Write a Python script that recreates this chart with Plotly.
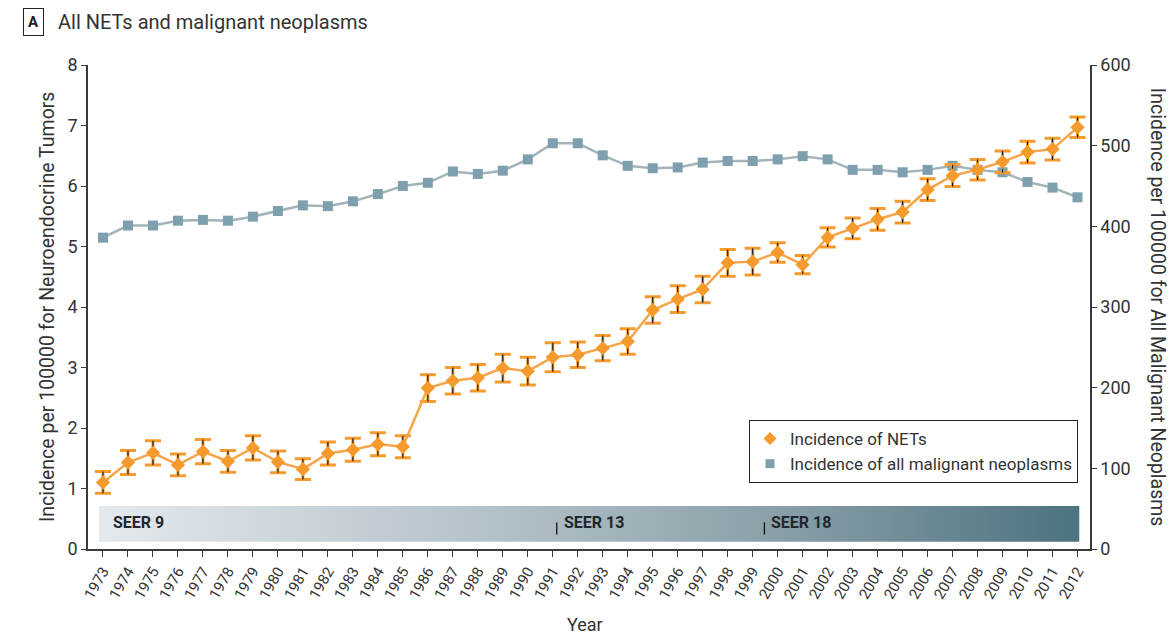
import plotly.graph_objects as go

years = list(range(1973, 2013))

nets = [1.10, 1.43, 1.59, 1.39, 1.61, 1.45, 1.67, 1.44, 1.32, 1.58,
        1.64, 1.73, 1.69, 2.66, 2.78, 2.83, 2.99, 2.94, 3.17, 3.21,
        3.32, 3.43, 3.95, 4.13, 4.29, 4.73, 4.75, 4.90, 4.70, 5.15,
        5.30, 5.45, 5.57, 5.94, 6.17, 6.27, 6.40, 6.56, 6.61, 6.97]

nets_err = [0.18, 0.20, 0.20, 0.18, 0.20, 0.18, 0.20, 0.18, 0.17, 0.19,
            0.19, 0.19, 0.18, 0.22, 0.22, 0.22, 0.23, 0.23, 0.24, 0.21,
            0.21, 0.21, 0.22, 0.22, 0.22, 0.22, 0.22, 0.16, 0.15, 0.16,
            0.17, 0.18, 0.18, 0.18, 0.18, 0.17, 0.18, 0.18, 0.18, 0.17]

malig = [386, 401, 401, 407, 408, 407, 412, 419, 426, 425,
         431, 440, 450, 454, 468, 465, 469, 483, 503, 503,
         488, 475, 472, 473, 479, 481, 481, 483, 487, 483,
         470, 470, 467, 470, 475, 470, 467, 455, 448, 436]

seer_labels = ["SEER 9", "SEER 13", "SEER 18"]
seer_text_x = [1973.34, 1991.35, 1999.65]
seer_mark_x = [None, 1991.16, 1999.47]

ORANGE = "#f59a2c"
ORANGE_LINE = "#f6a54a"
BLUE = "#7e9fad"
BLUE_LINE = "#a2b3ba"
TXT = "#333333"
FONT = "Roboto, 'Open Sans', sans-serif"

fig = go.Figure()

# SEER band (gradient)
bx0, bx1 = years[0] - 0.16, years[-1] + 0.07
by0, by1 = 0.12, 0.71
fig.add_trace(go.Scatter(
    x=[bx0, bx1, bx1, bx0, bx0], y=[by0, by0, by1, by1, by0],
    fill="toself", mode="lines", line=dict(width=0),
    fillgradient=dict(type="horizontal",
                      colorscale=[[0, "#e4e9ed"], [0.45, "#adbcc3"],
                                  [0.7, "#889ea7"], [1, "#4c7380"]]),
    hoverinfo="skip", showlegend=False, yaxis="y"))

# All malignant neoplasms (right axis)
fig.add_trace(go.Scatter(
    x=years, y=malig, mode="lines+markers",
    line=dict(color=BLUE_LINE, width=2.5),
    marker=dict(symbol="square", size=10, color=BLUE),
    showlegend=False, yaxis="y2"))

# NETs with error bars (orange caps + black stem)
fig.add_trace(go.Scatter(
    x=years, y=nets, mode="lines",
    line=dict(color=ORANGE_LINE, width=2.5),
    error_y=dict(type="data", array=nets_err, color=ORANGE, thickness=3, width=8),
    showlegend=False, yaxis="y3"))
fig.add_trace(go.Scatter(
    x=years, y=nets, mode="markers",
    marker=dict(symbol="diamond", size=11, color=ORANGE),
    error_y=dict(type="data", array=nets_err, color="#222222", thickness=1.2, width=0),
    showlegend=False, yaxis="y3"))

# legend entries
fig.add_trace(go.Scatter(x=[None], y=[None], mode="markers", name="Incidence of NETs",
                         marker=dict(symbol="diamond", size=10, color=ORANGE)))
fig.add_trace(go.Scatter(x=[None], y=[None], mode="markers",
                         name="Incidence of all malignant neoplasms",
                         marker=dict(symbol="square", size=9, color=BLUE)))

annotations = []
shapes = []
for lab, tx, mx in zip(seer_labels, seer_text_x, seer_mark_x):
    annotations.append(dict(x=tx, y=0.43, xref="x", yref="y", text=lab, showarrow=False,
                            xanchor="left", yanchor="middle",
                            font=dict(family=FONT, size=16, color="#22272e", weight="bold")))
    if mx is not None:
        shapes.append(dict(type="line", xref="x", yref="y", x0=mx, x1=mx, y0=0.24, y1=0.44,
                           line=dict(color="#111111", width=1.3)))

# titles
annotations += [
    dict(x=-0.054, y=1.089, xref="paper", yref="paper", text="<b>A</b>", showarrow=False,
         xanchor="center", yanchor="middle", bordercolor="#222222", borderwidth=1, borderpad=4,
         font=dict(family=FONT, size=15, color="#222222")),
    dict(x=-0.032, y=1.089, xref="paper", yref="paper", text="All NETs and malignant neoplasms",
         showarrow=False, xanchor="left", yanchor="middle",
         font=dict(family=FONT, size=20, color=TXT)),
    dict(x=-0.0409, y=0.5, xref="paper", yref="paper",
         text="Incidence per 100000 for Neuroendocrine Tumors", showarrow=False,
         textangle=-90, xanchor="center", yanchor="middle",
         font=dict(family=FONT, size=19.5, color=TXT)),
    dict(x=1.068, y=0.5, xref="paper", yref="paper",
         text="Incidence per 100000 for All Malignant Neoplasms", showarrow=False,
         textangle=90, xanchor="center", yanchor="middle",
         font=dict(family=FONT, size=19.5, color=TXT)),
    dict(x=0.496, y=-0.157, xref="paper", yref="paper", text="Year", showarrow=False,
         xanchor="center", yanchor="middle", font=dict(family=FONT, size=18, color=TXT)),
]

axis_common = dict(showgrid=False, zeroline=False, showline=True, linecolor="#3a3a3a",
                   linewidth=1.5, ticks="outside", ticklen=5, tickcolor="#3a3a3a",
                   tickwidth=1.3, tickfont=dict(family=FONT, size=18, color=TXT))

fig.update_layout(
    width=1173, height=635,
    margin=dict(l=88, r=83, t=65, b=86),
    paper_bgcolor="white", plot_bgcolor="white",
    font=dict(family=FONT, color=TXT),
    xaxis=dict(range=[1972.4, 2012.5], tickvals=years, ticktext=[str(y) for y in years],
               tickangle=-60, **{**axis_common, "ticklen": 6,
                                 "tickfont": dict(family=FONT, size=15, color=TXT)}),
    yaxis=dict(range=[0, 8], dtick=1, **axis_common),
    yaxis2=dict(range=[0, 600], dtick=100, overlaying="y", side="right", **axis_common),
    yaxis3=dict(range=[0, 8], overlaying="y", visible=False),
    legend=dict(x=0.988, y=0.2665, xanchor="right", yanchor="top",
                bordercolor="#222222", borderwidth=1, bgcolor="white",
                font=dict(family=FONT, size=17, color=TXT), itemwidth=30,
                tracegroupgap=0),
    annotations=annotations, shapes=shapes,
)

fig.write_html("out.html")
